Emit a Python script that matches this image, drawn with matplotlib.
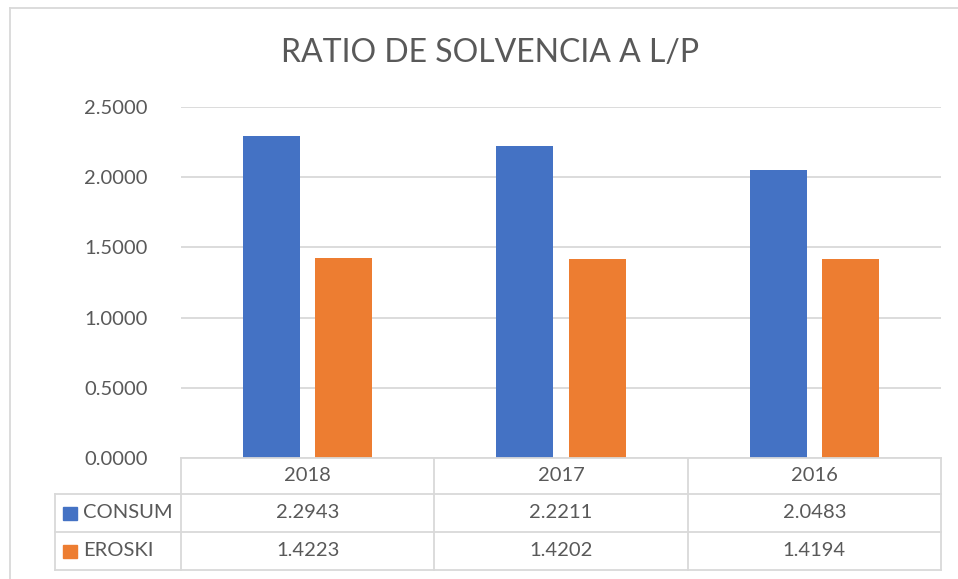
import matplotlib
matplotlib.use("Agg")
import matplotlib.pyplot as plt
from matplotlib.lines import Line2D
from matplotlib.patches import Rectangle
import matplotlib.transforms as mtransforms
import numpy as np

categories = ["2018", "2017", "2016"]
series_names = ["CONSUM", "EROSKI"]
consum = [2.2943, 2.2211, 2.0483]
eroski = [1.4223, 1.4202, 1.4194]
yticks = [0.0, 0.5, 1.0, 1.5, 2.0, 2.5]
title = "RATIO DE SOLVENCIA A L/P"

BLUE = "#4472C4"
ORANGE = "#ED7D31"
GRID = "#D9D9D9"
TXT = "#595959"
FONT = "Lato"

W, H = 958, 579
fig = plt.figure(figsize=(W / 100, H / 100), dpi=100)

def fx(px):
    return px / W

def fy(py):
    return 1 - py / H

# plot area
left, right, top, bottom = 181, 941, 107, 458
ax = fig.add_axes([fx(left), fy(bottom), fx(right - left), fy(top) - fy(bottom)])

x = np.arange(len(categories))
bw = 0.225
off = 0.143
ax.bar(x - off, consum, width=bw, color=BLUE, zorder=3)
ax.bar(x + off, eroski, width=bw, color=ORANGE, zorder=3)
ax.set_xlim(-0.5, len(categories) - 0.5)
ax.set_ylim(0, 2.5)
ax.set_yticks(yticks)
ax.set_yticklabels([f"{v:.4f}" for v in yticks], fontsize=14.5, color=TXT, family=FONT)
ax.tick_params(axis="y", length=0, pad=24)
ax.set_xticks([])
for s in ax.spines.values():
    s.set_visible(False)
ax.grid(axis="y", color=GRID, linewidth=1.3, zorder=0)
ax.set_axisbelow(True)

# title
fig.text(fx(490), fy(53.5), title, ha="center", va="center", fontsize=23,
         color=TXT, family=FONT, fontweight="normal")

# outer chart border
fig.add_artist(Line2D([fx(10), fx(W)], [fy(7.5), fy(7.5)], color=GRID, lw=1.3))
fig.add_artist(Line2D([fx(10), fx(10)], [fy(7.5), fy(H)], color=GRID, lw=1.3))

# data table
trans = mtransforms.blended_transform_factory(ax.transData, fig.transFigure)
row_y = [457.5, 494, 532, 570]
legend_left = 55
edges = [c - 0.5 for c in range(len(categories) + 1)]

lw = 1.3
# horizontal lines
fig.add_artist(Line2D([fx(left), fx(right)], [fy(row_y[0])] * 2, color=GRID, lw=lw))
for py in row_y[1:]:
    fig.add_artist(Line2D([fx(legend_left), fx(right)], [fy(py)] * 2, color=GRID, lw=lw))
# vertical lines
fig.add_artist(Line2D([fx(legend_left)] * 2, [fy(row_y[1]), fy(row_y[3])], color=GRID, lw=lw))
for e in edges:
    fig.add_artist(Line2D([e, e], [fy(row_y[0]), fy(row_y[3])], color=GRID, lw=lw, transform=trans))

# header texts
for i, c in enumerate(categories):
    fig.text(x[i], fy((row_y[0] + row_y[1]) / 2), c, transform=trans, ha="center", va="center",
             fontsize=14.5, color=TXT, family=FONT)

series_vals = [consum, eroski]
colors = [BLUE, ORANGE]
for r, (name, vals, col) in enumerate(zip(series_names, series_vals, colors)):
    yc = (row_y[r + 1] + row_y[r + 2]) / 2
    fig.add_artist(Rectangle((fx(63), fy(yc + 6.5)), fx(14), fy(yc - 6.5) - fy(yc + 6.5),
                             color=col, transform=fig.transFigure))
    fig.text(fx(83), fy(yc), name, ha="left", va="center", fontsize=14.5, color=TXT, family=FONT)
    for i, v in enumerate(vals):
        fig.text(x[i], fy(yc), f"{v:.4f}", transform=trans, ha="center", va="center",
                 fontsize=14.5, color=TXT, family=FONT)

fig.savefig("out.png", dpi=100)
